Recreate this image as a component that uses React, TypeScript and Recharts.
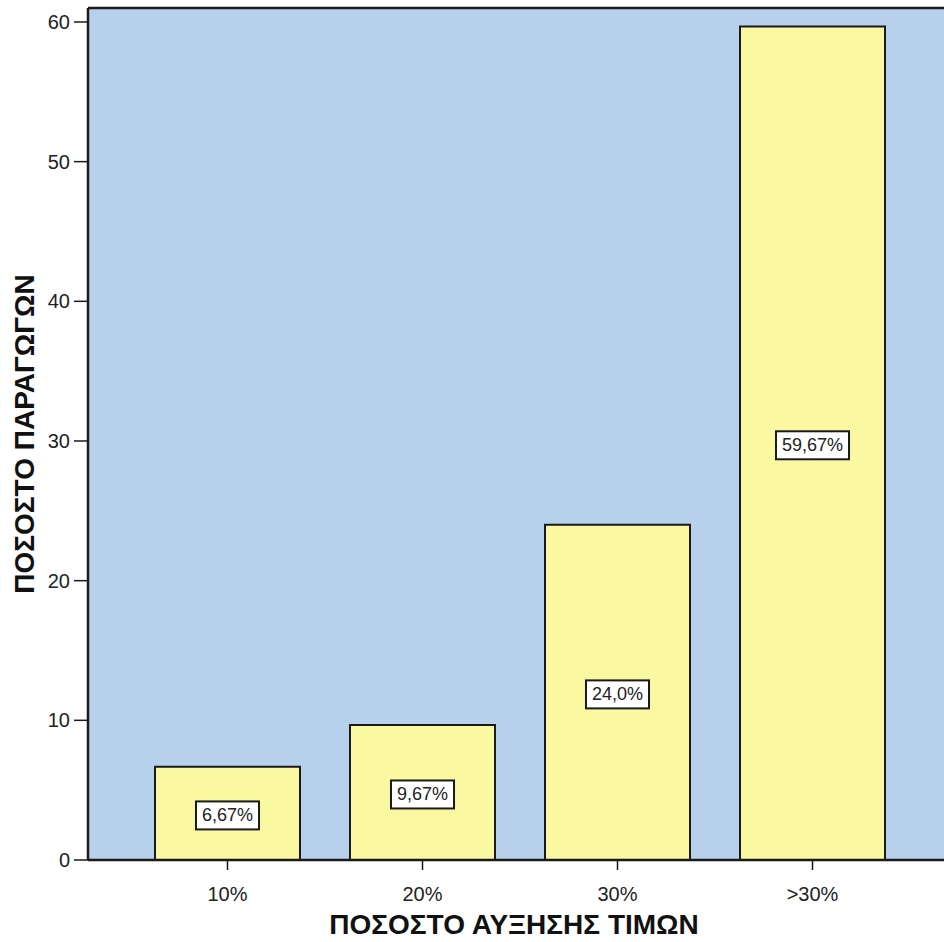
import React from "react";
import {
  BarChart,
  Bar,
  XAxis,
  YAxis,
  CartesianGrid,
  ReferenceLine,
  LabelList,
  Label,
} from "recharts";

const categories = ["10%", "20%", "30%", ">30%"];
const values = [6.67, 9.67, 24.0, 59.67];
const valueLabels = ["6,67%", "9,67%", "24,0%", "59,67%"];
const yTicks = [0, 10, 20, 30, 40, 50, 60];
const yMax = 61;
const xTitle = "ΠΟΣΟΣΤΟ ΑΥΞΗΣΗΣ ΤΙΜΩΝ";
const yTitle = "ΠΟΣΟΣΤΟ ΠΑΡΑΓΩΓΩΝ";

const data = categories.map((c, i) => ({
  category: c,
  value: values[i],
  label: valueLabels[i],
}));

const FONT = "Arial, 'Liberation Sans', sans-serif";
const BLUE = "#b7d0eb";
const YELLOW = "#fbf8a2";
const INK = "#1a1a1a";

const charW: Record<string, number> = {
  ",": 0.278,
  ".": 0.278,
  "%": 0.889,
};
const textWidth = (s: string, size: number) =>
  s.split("").reduce((a, ch) => a + (charW[ch] ?? 0.556), 0) * size;

const BoxLabel = (props: any) => {
  const { x, y, width, height, value } = props;
  const fs = 18;
  const w = textWidth(String(value), fs) + 12;
  const h = 28;
  const cx = Number(x) + Number(width) / 2;
  const cy = Number(y) + Number(height) / 2 + 2;
  return (
    <g>
      <rect
        x={cx - w / 2}
        y={cy - h / 2}
        width={w}
        height={h}
        fill="#ffffff"
        stroke={INK}
        strokeWidth={2}
      />
      <text
        x={cx}
        y={cy}
        textAnchor="middle"
        dominantBaseline="central"
        fontSize={fs}
        fontFamily={FONT}
        fill="#222"
      >
        {value}
      </text>
    </g>
  );
};

const XTitle = (props: any) => {
  const vb = props.viewBox || {};
  return (
    <text
      x={vb.x + vb.width / 2 - 4}
      y={934}
      textAnchor="middle"
      fontSize={28}
      fontWeight="bold"
      fontFamily={FONT}
      fill="#111"
    >
      {xTitle}
    </text>
  );
};

const YTitle = (props: any) => {
  const vb = props.viewBox || {};
  const cx = 24;
  const cy = vb.y + vb.height / 2;
  return (
    <text
      x={cx}
      y={cy}
      transform={`rotate(-90 ${cx} ${cy})`}
      textAnchor="middle"
      dominantBaseline="central"
      fontSize={28}
      fontWeight="bold"
      fontFamily={FONT}
      fill="#111"
    >
      {yTitle}
    </text>
  );
};

export default function App() {
  return (
    <div
      style={{
        position: "absolute",
        left: 0,
        top: 0,
        width: 944,
        height: 942,
        overflow: "hidden",
        background: "#ffffff",
      }}
    >
      <BarChart
        width={960}
        height={942}
        data={data}
        margin={{ top: 8, right: 12, left: 0, bottom: 0 }}
        style={{ fontFamily: FONT }}
      >
        <CartesianGrid
          fill={BLUE}
          horizontal={false}
          vertical={false}
          stroke="none"
        />
        <XAxis
          dataKey="category"
          height={82}
          padding={{ left: 42, right: 38 }}
          tickSize={10}
          tickMargin={17}
          axisLine={{ stroke: INK, strokeWidth: 2.5 }}
          tickLine={{ stroke: INK, strokeWidth: 1.5 }}
          tick={{ fill: "#222", fontSize: 20, fontFamily: FONT }}
        >
          <Label content={<XTitle />} />
        </XAxis>
        <YAxis
          width={88}
          type="number"
          domain={[0, yMax]}
          ticks={yTicks}
          tickSize={14}
          tickMargin={4}
          axisLine={{ stroke: INK, strokeWidth: 2.5 }}
          tickLine={{ stroke: INK, strokeWidth: 1.5 }}
          tick={{ fill: "#222", fontSize: 20, fontFamily: FONT }}
        >
          <Label content={<YTitle />} />
        </YAxis>
        <ReferenceLine y={yMax} stroke={INK} strokeWidth={2.5} />
        <Bar
          dataKey="value"
          fill={YELLOW}
          stroke={INK}
          strokeWidth={2}
          barSize={145}
          isAnimationActive={false}
        >
          <LabelList dataKey="label" content={<BoxLabel />} />
        </Bar>
      </BarChart>
    </div>
  );
}
